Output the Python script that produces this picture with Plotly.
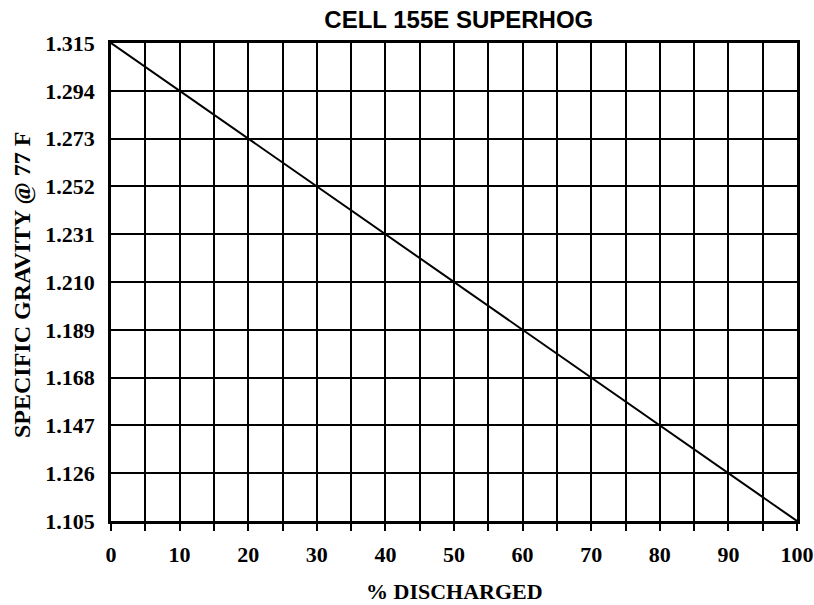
import plotly.graph_objects as go

pct_discharged = [0, 10, 20, 30, 40, 50, 60, 70, 80, 90, 100]
specific_gravity = [1.315, 1.294, 1.273, 1.252, 1.231, 1.210, 1.189, 1.168, 1.147, 1.126, 1.105]

x_ticks = [0, 10, 20, 30, 40, 50, 60, 70, 80, 90, 100]
y_ticks = [1.105, 1.126, 1.147, 1.168, 1.189, 1.210, 1.231, 1.252, 1.273, 1.294, 1.315]
y_tick_text = ["1.105", "1.126", "1.147", "1.168", "1.189", "1.210", "1.231", "1.252", "1.273", "1.294", "1.315"]

serif = "Liberation Serif, Times New Roman, serif"
sans = "Liberation Sans, Arial, sans-serif"

L, R, T, B = 111, 17, 43, 84
W, H = 814, 605
pw, ph = W - L - R, H - T - B

fig = go.Figure()
fig.add_trace(go.Scatter(x=pct_discharged, y=specific_gravity, mode="lines",
                         line=dict(color="black", width=2), showlegend=False,
                         hoverinfo="skip"))

fig.update_layout(
    width=W, height=H,
    margin=dict(l=L, r=R, t=T, b=B, autoexpand=False),
    paper_bgcolor="white", plot_bgcolor="white",
    title=dict(text="<b>CELL 155E SUPERHOG</b>", font=dict(family=sans, size=24, color="black"),
               x=0.507, xref="paper", xanchor="center", y=1 - 20 / H, yanchor="middle"),
    xaxis=dict(
        range=[0, 100], tickmode="array", tickvals=x_ticks,
        ticktext=[f"<b>{v}</b>" for v in x_ticks],
        tickfont=dict(family=serif, size=22, color="black"),
        ticks="", ticklabelstandoff=12, automargin=False,
        showgrid=True, gridcolor="black", gridwidth=1.6,
        minor=dict(dtick=5, tick0=0, ticks="outside", ticklen=7, tickwidth=1.6, tickcolor="black",
                   showgrid=True, gridcolor="black", gridwidth=1.6),
        showline=True, linecolor="black", linewidth=2.5, mirror=True, zeroline=False,
    ),
    yaxis=dict(
        range=[1.105, 1.315], tickmode="array", tickvals=y_ticks,
        ticktext=[f"<b>{t}</b>" for t in y_tick_text],
        tickfont=dict(family=serif, size=22, color="black"),
        ticks="", ticklabelstandoff=9, automargin=False,
        showgrid=True, gridcolor="black", gridwidth=1.6,
        showline=True, linecolor="black", linewidth=2.5, mirror=True, zeroline=False,
    ),
    annotations=[
        dict(text="<b>% DISCHARGED</b>", xref="paper", yref="paper",
             x=(454 - L) / pw, y=(H - B - 591) / ph, xanchor="center", yanchor="middle",
             showarrow=False, font=dict(family=serif, size=22, color="black")),
        dict(text="<b>SPECIFIC GRAVITY @ 77 F</b>", xref="paper", yref="paper",
             x=(22 - L) / pw, y=(H - B - 285) / ph, xanchor="center", yanchor="middle",
             textangle=-90, showarrow=False, font=dict(family=serif, size=24, color="black")),
    ],
)

fig.write_html("out.html", config={"displayModeBar": False},
               post_script="document.body.style.margin='0';document.body.style.overflow='hidden';")
